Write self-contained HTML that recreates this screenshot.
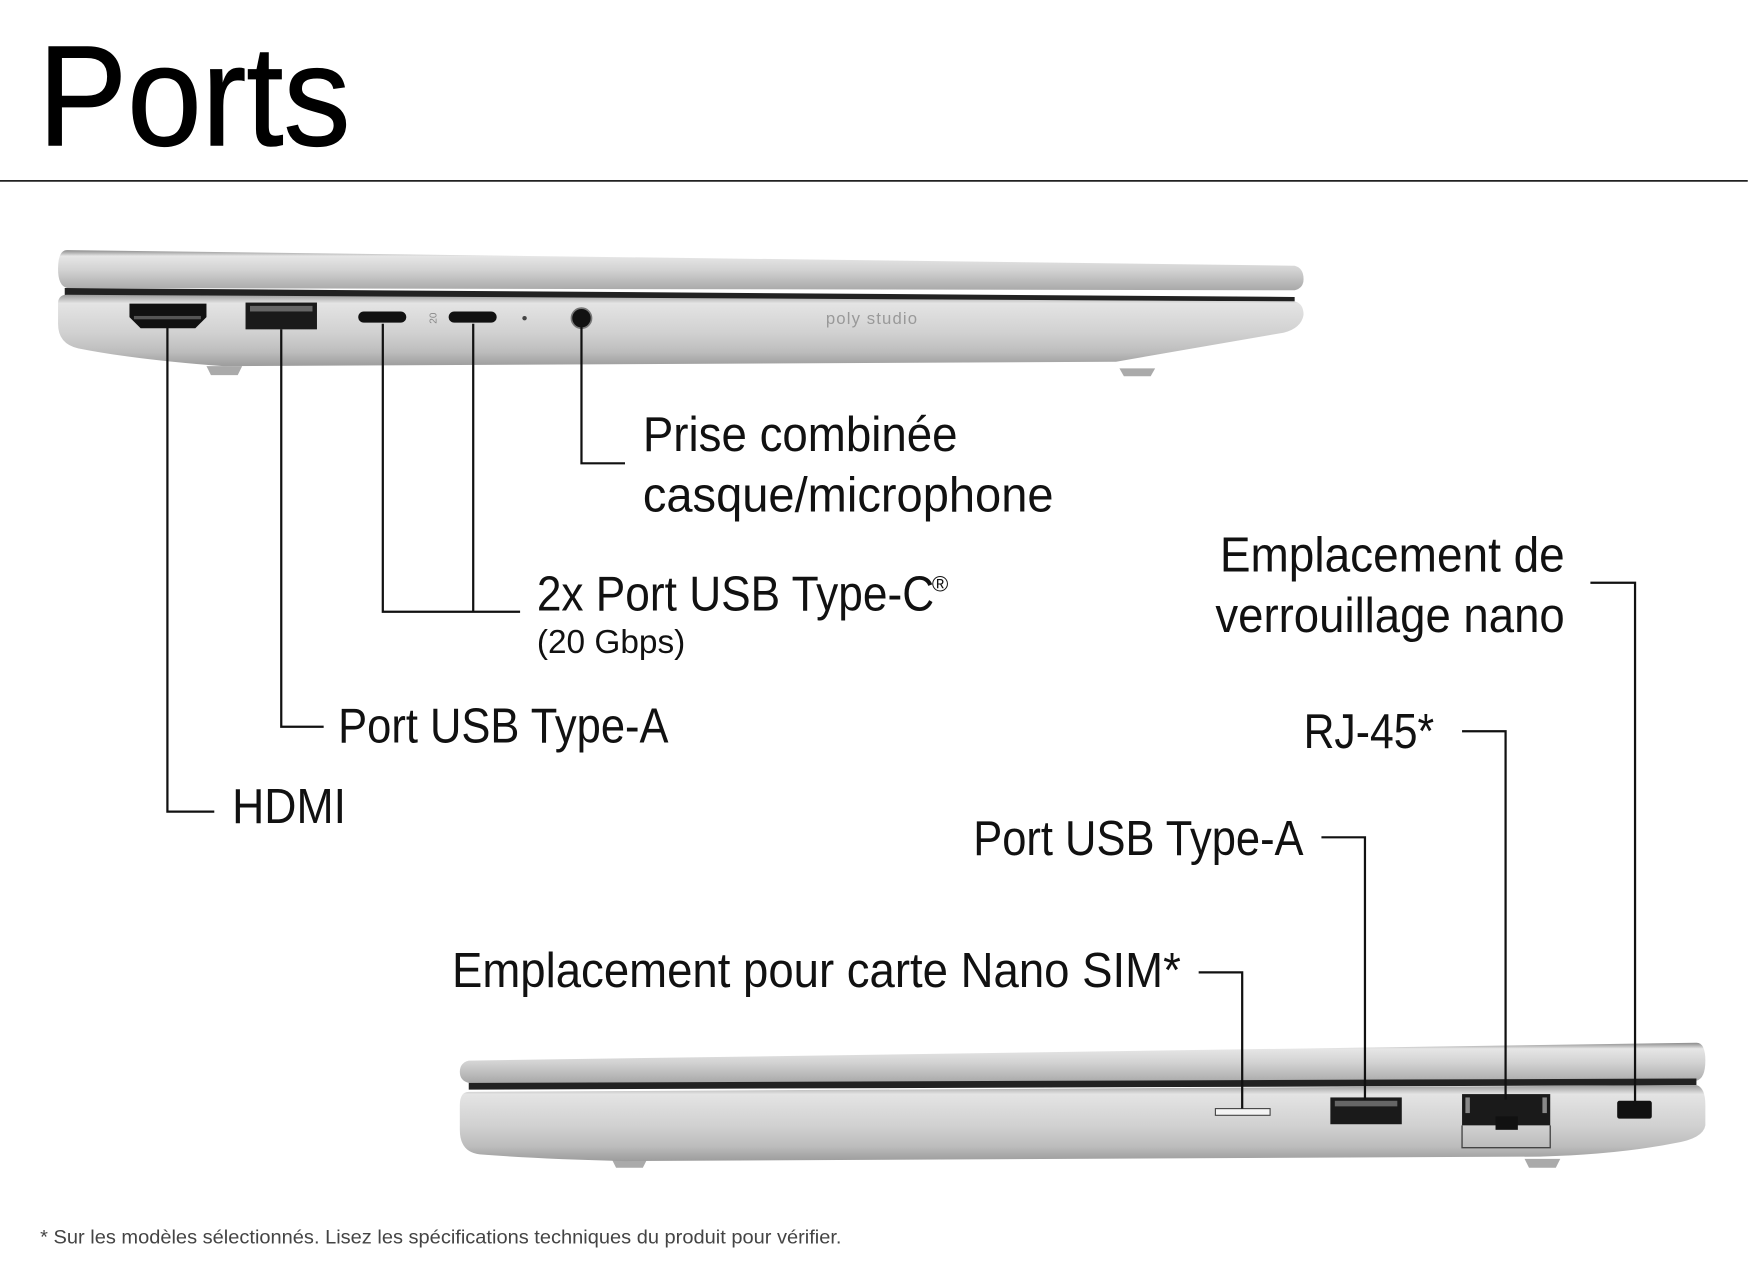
<!DOCTYPE html>
<html><head><meta charset="utf-8"><style>html,body{margin:0;padding:0;background:#fff;}svg{display:block}</style></head>
<body>
<svg width="1750" height="1285" viewBox="0 0 1568 1151" preserveAspectRatio="none" xmlns="http://www.w3.org/2000/svg" font-family="Liberation Sans, sans-serif">
<defs>
<linearGradient id="lid" x1="0" y1="0" x2="0" y2="1"><stop offset="0" stop-color="#8a8a8a"/><stop offset="0.15" stop-color="#e6e6e6"/><stop offset="0.5" stop-color="#d2d2d2"/><stop offset="1" stop-color="#a8a8a8"/></linearGradient>
<linearGradient id="base" x1="0" y1="0" x2="0" y2="1"><stop offset="0" stop-color="#9a9a9a"/><stop offset="0.12" stop-color="#e4e4e4"/><stop offset="0.55" stop-color="#d0d0d0"/><stop offset="0.8" stop-color="#bdbdbd"/><stop offset="1" stop-color="#9c9c9c"/></linearGradient>
</defs>
<rect width="1568" height="1151" fill="#fff"/>
<text x="34" y="130" font-size="128" textLength="280" lengthAdjust="spacingAndGlyphs" fill="#000" stroke="#000" stroke-width="1">Ports</text>
<line x1="0" y1="162" x2="1566" y2="162" stroke="#222" stroke-width="1.6"/>

<!-- top laptop -->
<path d="M185 328 h32 l-4 8 h-24 z" fill="#aaa"/>
<path d="M1003 330 h32 l-4 7 h-24 z" fill="#aaa"/>
<path d="M60 224 L1160 238 Q1168 240 1168 250 Q1168 258 1160 260 L60 258 Q52 256 52 241 Q52 224 60 224 Z" fill="url(#lid)"/>
<path d="M58 258 L1160 266 L1160 270 L58 266 Z" fill="#222"/>
<path d="M60 264 L1160 270 Q1168 272 1168 282 Q1166 294 1150 298 L1000 324 L200 328 Q120 322 70 312 Q52 308 52 290 L52 272 Q52 264 60 264 Z" fill="url(#base)"/>
<path d="M116 272 h69 v12 l-10 10 h-49 l-10 -10 z" fill="#111"/>
<rect x="120" y="283" width="60" height="3" fill="#555"/>
<rect x="220" y="271" width="64" height="24" fill="#1a1a1a"/>
<rect x="224" y="274" width="56" height="5" fill="#666"/>
<rect x="321" y="279" width="43" height="10" rx="5" fill="#111"/>
<rect x="402" y="279" width="43" height="10" rx="5" fill="#111"/>
<text x="385" y="296" font-size="9" fill="#888" transform="rotate(-90 385 290)">20</text>
<circle cx="470" cy="285" r="2" fill="#444"/>
<circle cx="521" cy="285" r="9" fill="#111" stroke="#777" stroke-width="1.5"/>
<text x="740" y="290" font-size="15" fill="#999" letter-spacing="1">poly studio</text>

<!-- bottom laptop -->
<path d="M548 1038 h32 l-4 8 h-24 z" fill="#aaa"/>
<path d="M1366 1038 h32 l-4 8 h-24 z" fill="#aaa"/>
<path d="M420 950 L1520 934 Q1528 934 1528 950 Q1528 966 1520 968 L420 970 Q412 968 412 960 Q412 952 420 950 Z" fill="url(#lid)"/>
<path d="M420 970 L1520 966 L1520 972 L420 976 Z" fill="#222"/>
<path d="M420 978 L1520 972 Q1528 974 1528 990 L1528 1008 Q1526 1020 1500 1024 Q1450 1034 1380 1036 L560 1040 Q480 1038 430 1034 Q412 1032 412 1012 L412 990 Q412 978 420 978 Z" fill="url(#base)"/>
<rect x="1089" y="993" width="49" height="6" fill="#f4f4f4" stroke="#444" stroke-width="1"/>
<rect x="1192" y="983" width="64" height="24" fill="#1a1a1a"/>
<rect x="1196" y="986" width="56" height="5" fill="#666"/>
<rect x="1310" y="980" width="79" height="28" fill="#1a1a1a"/>
<rect x="1313" y="983" width="4" height="14" fill="#888"/>
<rect x="1382" y="983" width="4" height="14" fill="#888"/>
<rect x="1340" y="1000" width="20" height="12" fill="#111"/>
<path d="M1310 1008 v20 h79 v-20" fill="none" stroke="#444" stroke-width="1.2"/>
<rect x="1449" y="986" width="31" height="16" rx="2" fill="#111"/>

<!-- connectors -->
<g fill="none" stroke="#111" stroke-width="2">
<path d="M150 292 V727 H192"/>
<path d="M252 295 V651 H290"/>
<path d="M343 290 V548 H466"/>
<path d="M424 290 V548"/>
<path d="M521 292 V415 H560"/>
<path d="M1425 522 H1465 V990"/>
<path d="M1310 655 H1349 V985"/>
<path d="M1184 750 H1223 V985"/>
<path d="M1074 871 H1113 V993"/>
</g>

<g fill="#111" font-size="44" lengthAdjust="spacingAndGlyphs">
<text x="208" y="737" textLength="102" lengthAdjust="spacingAndGlyphs">HDMI</text>
<text x="303" y="665" textLength="296" lengthAdjust="spacingAndGlyphs">Port USB Type-A</text>
<text x="481" y="547" textLength="356" lengthAdjust="spacingAndGlyphs">2x Port USB Type-C</text>
<text x="835" y="530" font-size="20">®</text>
<text x="481" y="585" font-size="30" textLength="133" lengthAdjust="spacingAndGlyphs">(20 Gbps)</text>
<text x="576" y="404" textLength="282" lengthAdjust="spacingAndGlyphs">Prise combinée</text>
<text x="576" y="458" textLength="368" lengthAdjust="spacingAndGlyphs">casque/microphone</text>
<text x="1093" y="512" textLength="309" lengthAdjust="spacingAndGlyphs">Emplacement de</text>
<text x="1089" y="566" textLength="313" lengthAdjust="spacingAndGlyphs">verrouillage nano</text>
<text x="1168" y="670" textLength="117" lengthAdjust="spacingAndGlyphs">RJ-45*</text>
<text x="872" y="766" textLength="296" lengthAdjust="spacingAndGlyphs">Port USB Type-A</text>
<text x="405" y="884" textLength="653" lengthAdjust="spacingAndGlyphs">Emplacement pour carte Nano SIM*</text>
</g>
<text x="36" y="1114" font-size="17" fill="#444" textLength="718" lengthAdjust="spacingAndGlyphs">* Sur les modèles sélectionnés. Lisez les spécifications techniques du produit pour vérifier.</text>
</svg>
</body></html>
